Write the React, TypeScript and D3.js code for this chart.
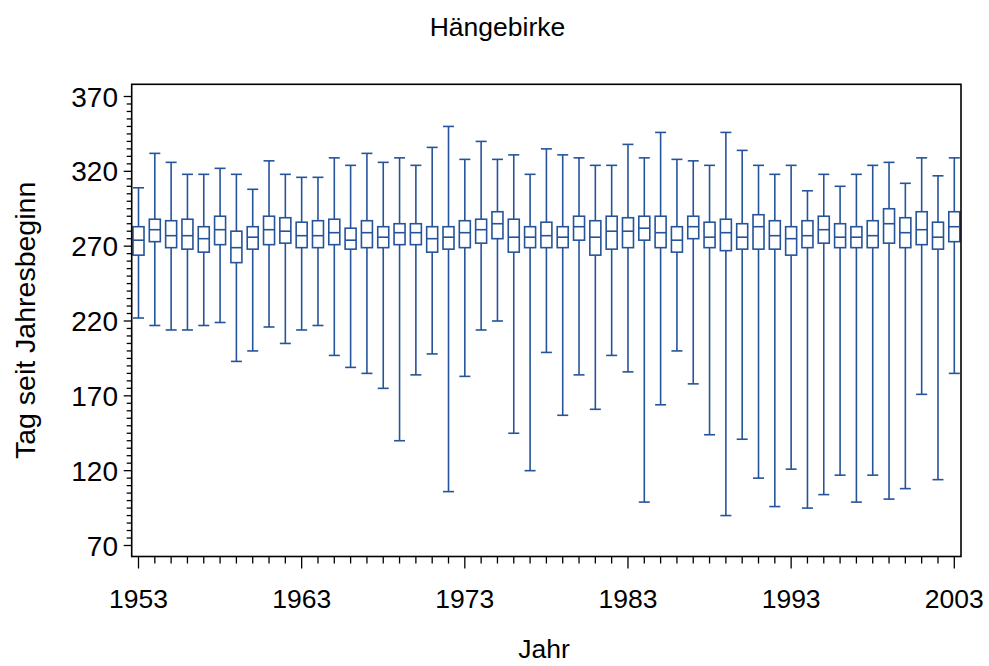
import React from "react";
import * as d3 from "d3";

const years: number[] = d3.range(1953, 2004);
const mins = [222,217,214,214,217,219,193,200,216,205,214,217,197,189,185,175,140,184,198,106,183,214,220,145,120,199,157,184,161,197,186,99,164,200,178,144,90,141,115,96,121,95,104,117,99,117,101,108,171,114,185];
const q1s = [264,273,269,268,266,271,259,268,271,272,269,269,271,268,269,269,271,271,266,268,269,272,275,266,269,269,269,274,264,268,269,274,269,266,275,269,267,268,268,268,264,269,272,269,269,269,272,269,271,268,273];
const medians = [274,281,277,277,275,281,269,276,281,280,277,277,279,274,279,276,279,279,275,276,279,281,285,276,276,277,276,283,276,280,280,282,279,274,283,276,279,276,283,277,275,277,281,276,276,277,285,279,281,276,283];
const q3s = [283,288,287,288,283,290,280,283,290,289,286,287,288,282,287,283,285,285,283,283,287,288,293,288,283,286,283,290,287,290,289,290,290,283,290,286,288,285,291,287,283,287,290,285,283,287,295,289,293,286,293];
const maxs = [309,332,326,318,318,322,318,308,327,318,316,316,329,324,332,326,329,324,336,350,328,340,328,331,318,335,331,329,324,324,338,329,346,328,327,324,346,334,324,318,324,307,318,310,318,324,326,312,329,317,329];

const yTicks = [70, 120, 170, 220, 270, 320, 370];
const xTicks = [1953, 1963, 1973, 1983, 1993, 2003];
const title = "Hängebirke";
const xLabel = "Jahr";
const yLabel = "Tag seit Jahresbeginn";

const W = 989, H = 666;
const left = 131.7, right = 961, top = 84.3, bottom = 556.5;
const color = "#25549a";
const font = "'Liberation Sans', Arial, Helvetica, sans-serif";

export default function App() {
  const x = d3.scaleLinear().domain([1953, 2003]).range([138.5, 954.3]);
  const y = d3.scaleLinear().domain([62.65, 378.15]).range([bottom, top]);
  const minorY = d3.range(70, 375, 5).filter((v) => v % 50 !== 20);
  const minorX = years.filter((v) => (v - 1953) % 10 !== 0);
  const bw = 11;
  return (
    <svg width={W} height={H} style={{ position: "absolute", left: 0, top: 0, background: "#fff" }} fontFamily={font}>
      <rect x={0} y={0} width={W} height={H} fill="#fff" />
      <text x={497.5} y={36} textAnchor="middle" fontSize={26.5}>{title}</text>
      {years.map((yr, i) => {
        const cx = x(yr);
        return (
          <g key={yr} stroke={color} strokeWidth={1.6} fill="none">
            <line x1={cx} x2={cx} y1={y(q3s[i])} y2={y(maxs[i])} />
            <line x1={cx} x2={cx} y1={y(q1s[i])} y2={y(mins[i])} />
            <line x1={cx - bw / 2} x2={cx + bw / 2} y1={y(maxs[i])} y2={y(maxs[i])} />
            <line x1={cx - bw / 2} x2={cx + bw / 2} y1={y(mins[i])} y2={y(mins[i])} />
            <rect x={cx - bw / 2} y={y(q3s[i])} width={bw} height={y(q1s[i]) - y(q3s[i])} fill="#fff" />
            <line x1={cx - bw / 2} x2={cx + bw / 2} y1={y(medians[i])} y2={y(medians[i])} />
          </g>
        );
      })}
      <rect x={left} y={top} width={right - left} height={bottom - top} fill="none" stroke="#000" strokeWidth={1.6} />
      <g stroke="#000" strokeWidth={1.3}>
        {yTicks.map((t) => (
          <line key={"yt" + t} x1={left - 8} x2={left} y1={y(t)} y2={y(t)} />
        ))}
        {minorY.map((t) => (
          <line key={"ym" + t} x1={left - 5} x2={left} y1={y(t)} y2={y(t)} />
        ))}
        {xTicks.map((t) => (
          <line key={"xt" + t} x1={x(t)} x2={x(t)} y1={bottom} y2={bottom + 12} />
        ))}
        {minorX.map((t) => (
          <line key={"xm" + t} x1={x(t)} x2={x(t)} y1={bottom} y2={bottom + 7} />
        ))}
      </g>
      {yTicks.map((t) => (
        <text key={"yl" + t} x={118} y={y(t)} dy="0.36em" textAnchor="end" fontSize={28}>{t}</text>
      ))}
      {xTicks.map((t) => (
        <text key={"xl" + t} x={x(t)} y={608} textAnchor="middle" fontSize={26.5}>{t}</text>
      ))}
      <text x={544} y={658} textAnchor="middle" fontSize={26.5}>{xLabel}</text>
      <text transform={`translate(35,${(top + bottom) / 2}) rotate(-90)`} textAnchor="middle" fontSize={28.5}>{yLabel}</text>
    </svg>
  );
}
